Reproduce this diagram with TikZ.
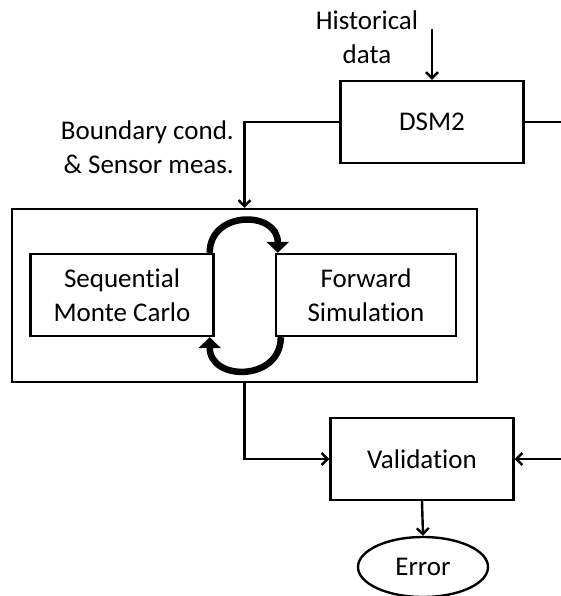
\documentclass[tikz,border=0pt]{standalone}
\usepackage{fontspec}
\setmainfont{Carlito}[Ligatures=NoCommon]
\usetikzlibrary{arrows.meta,shapes.geometric}

\begin{document}
\begin{tikzpicture}[x=1pt,y=1pt,
		font=\fontsize{27}{34}\selectfont,
		box/.style={draw, line width=2.4pt, minimum width=183pt, minimum height=82pt, align=center, inner sep=0pt},
		conn/.style={line width=2.4pt, -{Straight Barb[length=6pt,width=12pt]}},
		loopArrow/.style={line width=6.5pt, -{Triangle[length=11pt,width=22pt]}}]
			\useasboundingbox (0,0) rectangle (561,-596);
			% outer frame
			\node[draw, line width=2.4pt, minimum width=465pt, minimum height=173pt] (outer) at (244.5,-295.5) {};
			% blocks
			\node[box] (dsm) at (432,-122) {DSM2};
			\node[box] (seq) at (122,-295) {Sequential\\Monte Carlo};
			\node[box, minimum width=180pt] (fwd) at (366,-295) {Forward\\Simulation};
			\node[box] (val) at (422,-459) {Validation};
			\node[draw, ellipse, line width=2.4pt, minimum width=130pt, minimum height=60pt, inner sep=0pt] (err) at (423,-567) {Error};
			% labels
			\node[align=center, inner sep=0pt] (hist) at (367,-37) {Historical\\data};
			\node[align=right, inner sep=0pt, anchor=east] (bnd) at (234,-147) {Boundary cond.\\\& Sensor meas.};
			% free ends
			\coordinate (histin) at (432,-29);
			\coordinate (dsmout) at (561,-122);
			\coordinate (valin) at (561,-459);
			% connectors
			\draw[conn] (histin) -- (dsm.north);
			\draw[conn] (dsm.west) -| (outer.north);
			\draw[line width=2.4pt] (dsm.east) -- (dsmout);
			\draw[conn] (outer.south) |- (val.west);
			\draw[conn] (valin) -- (val.east);
			\draw[conn] (val.south) -- (err.north);
			% loop between the two blocks
			\draw[loopArrow] ([xshift=-5pt]seq.north east) to[out=90, in=90, looseness=1.6] ([xshift=3pt]fwd.north west);
			\draw[loopArrow] ([xshift=6pt]fwd.south west) to[out=-90, in=-90, looseness=1.6] ([xshift=-5pt]seq.south east);
		\end{tikzpicture}
\end{document}
